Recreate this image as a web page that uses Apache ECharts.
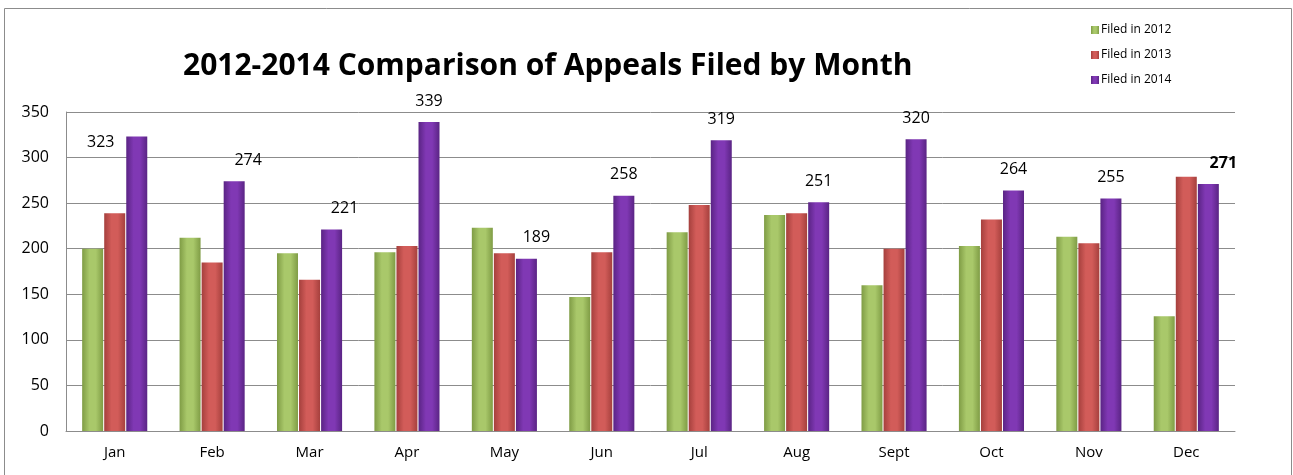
<!DOCTYPE html>
<html>
<head>
<meta charset="utf-8">
<script src="https://cdn.jsdelivr.net/npm/echarts@6/dist/echarts.min.js"></script>
<style>
    html, body { margin: 0; padding: 0; background: #fff; }
    #main { width: 1293px; height: 475px; }
</style>
</head>
<body>
<div id="main"></div>
<script>
    // data
    var months = ['Jan', 'Feb', 'Mar', 'Apr', 'May', 'Jun', 'Jul', 'Aug', 'Sept', 'Oct', 'Nov', 'Dec'];
    var filed2012 = [200, 212, 195, 196, 223, 147, 218, 237, 160, 203, 213, 126];
    var filed2013 = [239, 185, 166, 203, 195, 196, 248, 239, 200, 232, 206, 279];
    var filed2014 = [323, 274, 221, 339, 189, 258, 319, 251, 320, 264, 255, 271];
    var yTicks = [0, 50, 100, 150, 200, 250, 300, 350];

    var font = '"Open Sans", "Noto Sans", sans-serif';

    function barColor(edge, mid) {
        return new echarts.graphic.LinearGradient(0, 0, 1, 0, [
            {offset: 0, color: edge},
            {offset: 0.35, color: mid},
            {offset: 0.65, color: mid},
            {offset: 1, color: edge}
        ]);
    }

    // label nudges, excel had a few moved by hand
    var labelShift = {0: [-36, 27], 1: [14, 0], 2: [13, 0], 4: [10, 0], 11: [15, 0]};

    var data2014 = filed2014.map(function (v, i) {
        var item = {value: v};
        if (labelShift[i]) {
            item.label = {offset: labelShift[i]};
        }
        if (i === 11) {
            item.label.fontWeight = 'bold';
        }
        return item;
    });

    var chart = echarts.init(document.getElementById('main'));
    var option = {
        animation: false,
        textStyle: {fontFamily: font},
        title: {
            text: '2012-2014 Comparison of Appeals Filed by Month',
            left: 178,
            top: 46,
            textStyle: {fontSize: 30, fontWeight: 'bold', color: '#000', fontFamily: font}
        },
        legend: {
            orient: 'vertical',
            left: 1086,
            top: 19,
            itemWidth: 8,
            itemHeight: 8,
            itemGap: 13,
            icon: 'rect',
            textStyle: {fontSize: 12, color: '#000', padding: [0, 0, 0, -3]},
            data: ['Filed in 2012', 'Filed in 2013', 'Filed in 2014']
        },
        grid: {left: 66, right: 58, top: 112, bottom: 44},
        xAxis: {
            type: 'category',
            data: months,
            axisLine: {lineStyle: {color: '#8c8c8c'}},
            axisTick: {show: false},
            axisLabel: {fontSize: 15, color: '#000', margin: 14}
        },
        yAxis: {
            type: 'value',
            min: yTicks[0],
            max: yTicks[yTicks.length - 1],
            interval: 50,
            axisLine: {show: true, lineStyle: {color: '#8c8c8c'}},
            axisTick: {show: false},
            splitLine: {lineStyle: {color: '#8c8c8c'}},
            axisLabel: {fontSize: 16, color: '#000', margin: 17}
        },
        graphic: [{
            type: 'rect',
            shape: {x: 4.5, y: 8.5, width: 1287, height: 480},
            style: {fill: 'none', stroke: '#8c8c8c', lineWidth: 1},
            silent: true
        }],
        series: [{
            name: 'Filed in 2012',
            type: 'bar',
            data: filed2012,
            barWidth: 21,
            barGap: '5%',
            color: '#9BBB59',
            itemStyle: {color: barColor('#7f9c45', '#a9c86a')}
        }, {
            name: 'Filed in 2013',
            type: 'bar',
            data: filed2013,
            barWidth: 21,
            barGap: '5%',
            color: '#C0504D',
            itemStyle: {color: barColor('#a5403d', '#d25c59')}
        }, {
            name: 'Filed in 2014',
            type: 'bar',
            data: data2014,
            barWidth: 21,
            barGap: '5%',
            color: '#7030A0',
            itemStyle: {color: barColor('#5a2484', '#8038b4')},
            label: {
                show: true,
                position: 'top',
                distance: 13,
                fontSize: 16,
                color: '#000'
            }
        }]
    };
    chart.setOption(option);
</script>
</body>
</html>
